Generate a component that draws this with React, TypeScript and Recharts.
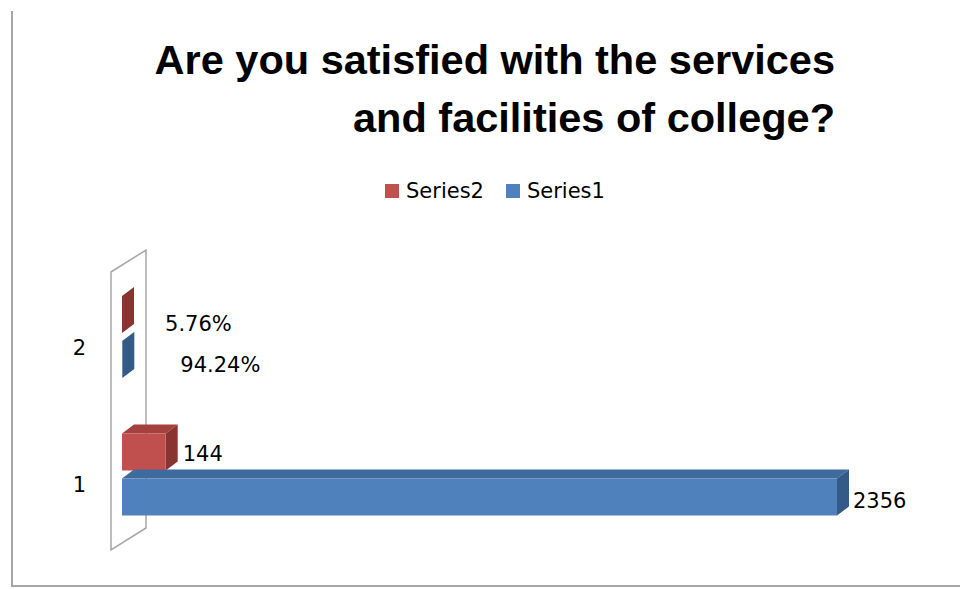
import React from 'react';
import { BarChart, Bar, XAxis, YAxis, Legend, LabelList, ReferenceArea, Customized } from 'recharts';

const categories = ['1', '2'];
const series1 = [2356, 0.9424];
const series2 = [144, 0.0576];
const legendOrder = ['Series2', 'Series1'];
const titleLines = ['Are you satisfied with the services', 'and facilities of college?'];

const data = categories.map((cat, i) => ({ cat, Series1: series1[i], Series2: series2[i] }));

const FONT = '"DejaVu Sans", sans-serif';
const DEPTH_X = 12;
const DEPTH_Y = -9;

const RED = { front: '#C0504D', top: '#A3413E', side: '#8A3432' };
const BLUE = { front: '#4F81BD', top: '#3E6A9E', side: '#345A88' };

// fake 3d box: front rect + top face + right face
const box3D = (c: { front: string; top: string; side: string }) => (props: any) => {
  const { x, y, height } = props;
  const w = Math.max(props.width || 0, 0);
  const r = x + w;
  return (
    <g>
      <path
        d={`M${x},${y} L${x + DEPTH_X},${y + DEPTH_Y} L${r + DEPTH_X},${y + DEPTH_Y} L${r},${y} Z`}
        fill={c.top}
      />
      <path
        d={`M${r},${y} L${r + DEPTH_X},${y + DEPTH_Y} L${r + DEPTH_X},${y + height + DEPTH_Y} L${r},${y + height} Z`}
        fill={c.side}
      />
      {w > 0.5 && <rect x={x} y={y} width={w} height={height} fill={c.front} />}
    </g>
  );
};

const fmt = (v: number) => (v >= 1 ? String(v) : (v * 100).toFixed(2) + '%');

// label nudges per category index (excel puts the tiny % labels further out)
const valueLabel = (nudges: { dx: number; dy: number }[]) => (props: any) => {
  const vb = props.viewBox || props;
  const x = vb.x ?? props.x;
  const y = vb.y ?? props.y;
  const width = vb.width ?? props.width ?? 0;
  const height = vb.height ?? props.height ?? 0;
  const n = nudges[props.index] || { dx: 16, dy: 3 };
  return (
    <text
      x={x + width + n.dx}
      y={y + height / 2 + n.dy}
      dominantBaseline="central"
      fontFamily={FONT}
      fontSize={21}
      fill="#000"
    >
      {fmt(props.value)}
    </text>
  );
};

const Wall = (props: any) => {
  const { x, y, height } = props;
  const fx = x - 11;
  const bx = x + 24;
  const ft = y + 4;
  const fb = y + height + 7;
  const d = -22;
  return (
    <path
      d={`M${fx},${ft} L${bx},${ft + d} L${bx},${fb + d} L${fx},${fb} Z`}
      fill="#fff"
      stroke="#a6a6a6"
      strokeWidth={1.5}
    />
  );
};

const CatTick = (props: any) => {
  const { x, y, payload } = props;
  return (
    <text x={x} y={y + 11} textAnchor="end" dominantBaseline="central" fontFamily={FONT} fontSize={21} fill="#000">
      {payload.value}
    </text>
  );
};

const LegendContent = (props: any) => {
  const items = [...(props.payload || [])].sort(
    (a: any, b: any) => legendOrder.indexOf(a.value) - legendOrder.indexOf(b.value)
  );
  return (
    <div style={{ display: 'flex', alignItems: 'center', fontFamily: FONT, fontSize: 21, color: '#000' }}>
      {items.map((it: any, i: number) => (
        <div key={it.value} style={{ display: 'flex', alignItems: 'center', marginLeft: i === 0 ? 0 : 22 }}>
          <span style={{ width: 14, height: 14, background: it.color, marginRight: 7, display: 'inline-block' }} />
          <span>{it.value}</span>
        </div>
      ))}
    </div>
  );
};

const Decor = () => (
  <g>
    <line x1={12} y1={11} x2={12} y2={587} stroke="#a6a6a6" strokeWidth={2} />
    <line x1={11} y1={586} x2={960} y2={586} stroke="#a6a6a6" strokeWidth={2} />
    <g fontFamily='"Liberation Sans", Arial, sans-serif' fontWeight="bold" fontSize={41.5} fill="#000">
      <text x={835} y={74} textAnchor="end">{titleLines[0]}</text>
      <text x={835} y={132} textAnchor="end">{titleLines[1]}</text>
    </g>
  </g>
);

export default function App() {
  return (
    <div style={{ position: 'absolute', left: 0, top: 0, background: '#fff' }}>
      <BarChart
        width={960}
        height={589}
        data={data}
        layout="vertical"
        margin={{ top: 268, right: 123, bottom: 46, left: 0 }}
        barGap={8}
      >
        <XAxis type="number" domain={[0, 2356]} hide />
        <YAxis
          type="category"
          dataKey="cat"
          reversed
          width={122}
          tickSize={0}
          tickMargin={36}
          axisLine={false}
          tickLine={false}
          tick={<CatTick />}
        />
        <ReferenceArea x1={0} x2={1} ifOverflow="visible" shape={Wall} />
        <Legend
          verticalAlign="middle"
          content={<LegendContent />}
          wrapperStyle={{ top: 179, left: 385, width: 'auto' }}
        />
        <Bar dataKey="Series2" name="Series2" fill={RED.front} barSize={37} shape={box3D(RED)} isAnimationActive={false}>
          <LabelList
            dataKey="Series2"
            content={valueLabel([
              { dx: 17, dy: 2 },
              { dx: 43, dy: 9 },
            ])}
          />
        </Bar>
        <Bar dataKey="Series1" name="Series1" fill={BLUE.front} barSize={37} shape={box3D(BLUE)} isAnimationActive={false}>
          <LabelList
            dataKey="Series1"
            content={valueLabel([
              { dx: 16, dy: 3.5 },
              { dx: 58, dy: 5 },
            ])}
          />
        </Bar>
        <Customized component={<Decor />} />
      </BarChart>
    </div>
  );
}
